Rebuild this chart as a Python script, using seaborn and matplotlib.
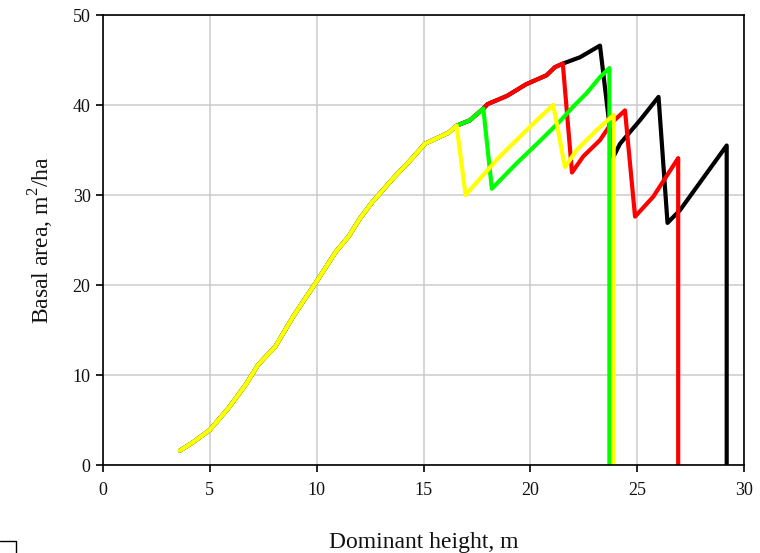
import numpy as np
import pandas as pd
import matplotlib
matplotlib.use("Agg")
import matplotlib.pyplot as plt
from matplotlib.lines import Line2D
import seaborn as sns

# ---- data ----
common_h = [3.6, 4.2, 5.0, 5.9, 6.7, 7.25, 7.6, 8.05, 8.9, 10.0, 10.9, 11.5, 12.0,
            12.6, 13.6, 14.4, 15.07, 16.16, 16.55]
common_ba = [1.6, 2.5, 3.9, 6.4, 9.0, 11.1, 12.0, 13.1, 16.5, 20.4, 23.7, 25.4, 27.3,
             29.2, 31.9, 33.9, 35.7, 36.9, 37.7]

yellow_h = [16.97, 18.5, 19.35, 20.3, 21.07, 21.62, 22.17, 23.1, 23.9, 23.9]
yellow_ba = [30.0, 34.1, 36.1, 38.3, 40.0, 33.1, 35.0, 37.2, 38.9, 0.0]

green_pre_h = [17.17, 17.8]
green_pre_ba = [38.3, 39.6]
green_h = [18.2, 19.35, 20.45, 21.39, 22.0, 22.63, 23.26, 23.7, 23.7]
green_ba = [30.7, 33.5, 36.0, 38.2, 39.8, 41.3, 43.1, 44.1, 0.0]

red_pre_h = [18.0, 18.9, 19.8, 20.76, 21.15, 21.52]
red_pre_ba = [40.1, 41.0, 42.3, 43.3, 44.2, 44.6]
red_h = [21.95, 22.48, 23.26, 23.8, 24.43, 24.9, 25.75, 26.92, 26.92]
red_ba = [32.5, 34.3, 36.1, 38.0, 39.4, 27.6, 29.8, 34.1, 0.0]

black_h = [22.32, 23.26, 23.88, 24.2, 25.13, 26.0, 26.42, 27.0, 29.19, 29.19]
black_ba = [45.3, 46.6, 34.2, 35.7, 38.3, 40.9, 26.9, 28.3, 35.5, 0.0]

series_names = ["black", "red", "green", "yellow"]
series_colors = ["#000000", "#FF0000", "#00FF00", "#FFFF00"]

x_ticks = [0, 5, 10, 15, 20, 25, 30]
y_ticks = [0, 10, 20, 30, 40, 50]

# ---- assemble long table ----
series_h = {
    "yellow": common_h + yellow_h,
    "green": common_h + green_pre_h + green_h,
    "red": common_h + green_pre_h + red_pre_h + red_h,
    "black": common_h + green_pre_h + red_pre_h + black_h,
}
series_ba = {
    "yellow": common_ba + yellow_ba,
    "green": common_ba + green_pre_ba + green_ba,
    "red": common_ba + green_pre_ba + red_pre_ba + red_ba,
    "black": common_ba + green_pre_ba + red_pre_ba + black_ba,
}
rows = []
for name in series_names:
    for i, (h, b) in enumerate(zip(series_h[name], series_ba[name])):
        rows.append({"series": name, "order": i, "h": h, "ba": b})
df = pd.DataFrame(rows)

sns.set_theme(style="white")
plt.rcParams["font.family"] = ["Liberation Serif", "DejaVu Serif"]
plt.rcParams["mathtext.fontset"] = "custom"
plt.rcParams["mathtext.rm"] = "Liberation Serif"

fig = plt.figure(figsize=(7.6, 5.53), dpi=100)
ax = fig.add_axes([103 / 760, 1 - 465 / 553, (744 - 103) / 760, (465 - 15) / 553])

sns.lineplot(data=df, x="h", y="ba", hue="series", hue_order=series_names,
             palette=dict(zip(series_names, series_colors)), sort=False,
             estimator=None, units="series", legend=False, lw=3.0, ax=ax)

ax.set_xlim(0, 30)
ax.set_ylim(0, 50)
ax.set_xticks(x_ticks)
ax.set_yticks(y_ticks)
ax.set_xticklabels([str(t) for t in x_ticks])
ax.set_yticklabels([str(t) for t in y_ticks])
ax.grid(True, color="#cccccc", lw=1.1)
ax.set_axisbelow(True)
for s in ax.spines.values():
    s.set_color("black")
    s.set_linewidth(1.2)
    s.set_visible(True)
ax.tick_params(axis="both", which="major", direction="out", length=5, width=1.2,
               color="black", labelsize=13, labelcolor="#111111",
               bottom=True, left=True, top=False, right=False)
ax.tick_params(axis="x", pad=7)
ax.tick_params(axis="y", pad=4)

ax.set_xlabel("Dominant height, m", fontsize=17, color="#111111")
ax.set_ylabel("Basal area, m$^{\\mathrm{2}}$/ha", fontsize=17, color="#111111")
ax.xaxis.set_label_coords(0.5, -0.148)
ax.yaxis.set_label_coords(-0.073, 0.5)

# small cut-off frame at bottom-left corner
fig.add_artist(Line2D([0, 16 / 760, 16 / 760], [1 - 541 / 553, 1 - 541 / 553, 0],
                      transform=fig.transFigure, color="black", lw=1.0))

fig.savefig("out.png", dpi=100)
